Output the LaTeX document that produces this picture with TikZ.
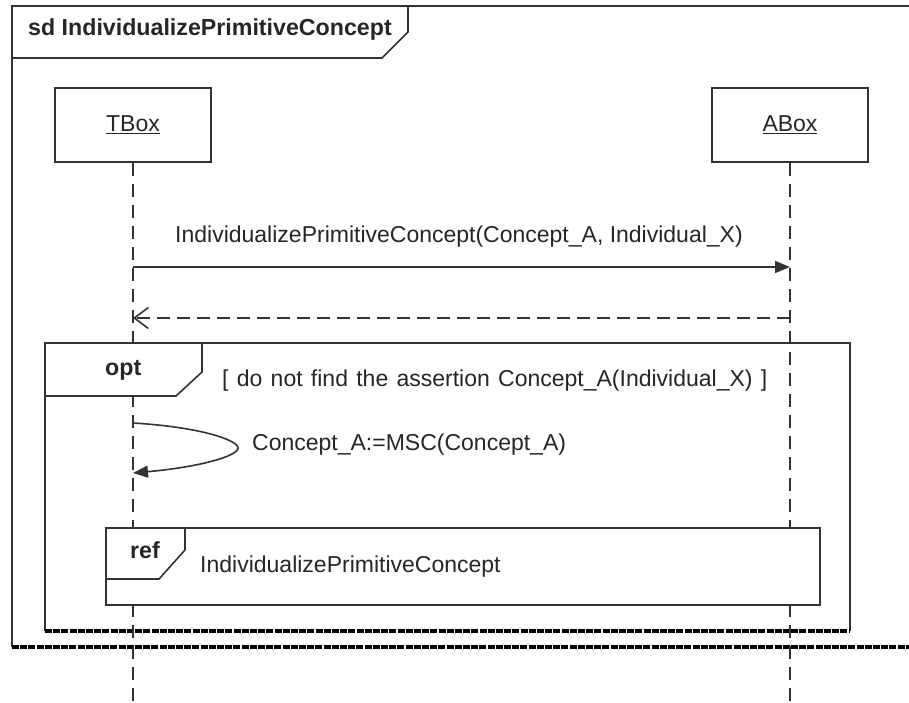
\documentclass[tikz,border=0pt]{standalone}
\usepackage{fontspec}
\setmainfont{Liberation Sans}
\usetikzlibrary{arrows.meta}
\newcommand{\widespaces}{\spaceskip=0.36em plus 0.1em\relax}
\begin{document}
\begin{tikzpicture}[x=1pt,y=-1pt,
  ln/.style={draw=black!80, line width=1.6pt},
  lifebox/.style={ln, fill=white, minimum width=156pt, minimum height=74pt, inner sep=0pt, font=\fontsize{23}{27}\selectfont, text=black!85},
  lifeline/.style={draw=black!80, line width=1.6pt, dash pattern=on 13pt off 8pt},
  txt/.style={font=\fontsize{23}{27}\selectfont, text=black!85, inner sep=0pt, anchor=base west},
  btxt/.style={font=\fontsize{23.2}{27}\selectfont\bfseries, text=black!85, inner sep=0pt, anchor=base west},
  thickdash/.style={draw=black, line width=3.5pt, dash pattern=on 7pt off 1.2pt},
  filled/.style={-{Triangle[length=15pt,width=12pt]}},
  barb/.style={-{Straight Barb[length=14pt,width=21pt]}},
  ]
\useasboundingbox (0,0) rectangle (909,703);
\fill[white] (0,0) rectangle (909,703);

% outer frame
\draw[ln] (909,6) -- (12,6) -- (12,647);
\draw[thickdash] (12,647) -- (909,647);
\draw[ln] (12,58) -- (382,58) -- (408,32) -- (408,6);
\node[btxt] (sdlabel) at (28,36) {sd IndividualizePrimitiveConcept};

% lifeline heads
\node[lifebox] (T) at (133,125) {\underline{TBox}};
\node[lifebox] (A) at (790,125) {\underline{ABox}};
\coordinate (Tend) at (133,703);
\coordinate (Aend) at (790,703);

% opt frame
\draw[ln] (45,631) -- (45,343) -- (850,343) -- (850,631);
\draw[thickdash] (45,631) -- (850,631);

% lifelines
\draw[lifeline] (T.south) -- (Tend);
\draw[lifeline] (A.south) -- (Aend);

% opt tab
\filldraw[ln, fill=white] (45,343) -- (45,396) -- (176,396) -- (202,372) -- (202,343) -- cycle;
\node[btxt] (optlabel) at (105,375) {opt};
\node[txt] (guard) at (222,386) {\widespaces [ do not find the assertion Concept\_A(Individual\_X) ]};

% message 1
\coordinate (m1s) at (133,267);
\coordinate (m1e) at (790,267);
\draw[ln, filled] (m1s) -- (m1e);
\node[txt] (m1l) at (175,242) {IndividualizePrimitiveConcept(Concept\_A, Individual\_X)};

% return
\coordinate (r1s) at (790,318);
\coordinate (r1e) at (133,318);
\draw[ln, dash pattern=on 13pt off 7pt, barb] (r1s) -- (r1e);

% self message
\coordinate (s1s) at (133,423);
\coordinate (s1e) at (133,473);
\draw[ln, filled] (s1s) .. controls (200,427) and (238,440) .. (238,448) .. controls (238,456) and (200,467) .. (s1e);
\node[txt] (s1l) at (252,450) {Concept\_A:=MSC(Concept\_A)};

% ref
\filldraw[ln, fill=white] (106,528) rectangle (820,605);
\draw[ln] (106,579) -- (159,579) -- (185,550) -- (185,528);
\node[btxt] (reflabel) at (130,558) {ref};
\node[txt] (reftext) at (200,572) {IndividualizePrimitiveConcept};
\end{tikzpicture}
\end{document}
